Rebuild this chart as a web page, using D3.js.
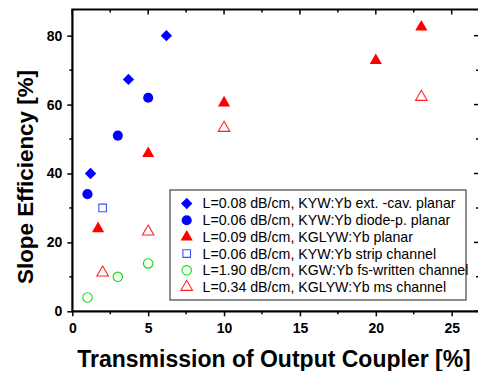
<!DOCTYPE html>
<html>
<head>
<meta charset="utf-8">
<script src="https://cdn.jsdelivr.net/npm/d3@7"></script>
<style>
  body { margin: 0; background: #fff; }
  svg { display: block; font-family: 'Liberation Sans', Arial, sans-serif; }
</style>
</head>
<body>
<div id="chart"></div>
<script>
// transmission of output coupler [%] and slope efficiency [%] per series
const extCavX = [1.2, 3.7, 6.2];
const extCavY = [40, 67.3, 80];
const diodeX = [1, 3, 5];
const diodeY = [34, 51, 62];
const kglywPlanarX = [1.7, 5, 10, 20, 23];
const kglywPlanarY = [24, 45.8, 60.5, 72.8, 82.5];
const stripX = [2];
const stripY = [30];
const fsX = [1, 3, 5];
const fsY = [4, 10, 13.9];
const msX = [2, 5, 10, 23];
const msY = [11.2, 23.1, 53.2, 62.2];

const legendLabels = [
  'L=0.08 dB/cm, KYW:Yb ext. -cav. planar',
  'L=0.06 dB/cm, KYW:Yb diode-p. planar',
  'L=0.09 dB/cm, KGLYW:Yb planar',
  'L=0.06 dB/cm, KYW:Yb strip channel',
  'L=1.90 dB/cm, KGW:Yb fs-written channel',
  'L=0.34 dB/cm, KGLYW:Yb ms channel'
];

const xTicks = [0, 5, 10, 15, 20, 25];
const yTicks = [0, 20, 40, 60, 80];

const width = 478, height = 371;
const margin = {top: 9.5, right: -1, bottom: 59.7, left: 72.3};

const series = [
  {xs: extCavX, ys: extCavY, shape: 'diamond', color: '#0000ff', fill: true},
  {xs: diodeX, ys: diodeY, shape: 'circle', color: '#0000ff', fill: true},
  {xs: kglywPlanarX, ys: kglywPlanarY, shape: 'triangle', color: '#ff0000', fill: true},
  {xs: stripX, ys: stripY, shape: 'square', color: '#3355ff', fill: false},
  {xs: fsX, ys: fsY, shape: 'circle', color: '#11dd11', fill: false},
  {xs: msX, ys: msY, shape: 'triangle', color: '#ff2222', fill: false}
];

const svg = d3.select('#chart')
  .append('svg')
  .attr('width', width)
  .attr('height', height);

const x = d3.scaleLinear()
  .domain([0, 26.8])
  .range([margin.left, width - margin.right]);

const y = d3.scaleLinear()
  .domain([0, 87.6])
  .range([height - margin.bottom, margin.top]);

const symbolFor = (shape, filled) => {
  if (shape === 'diamond') return d3.symbol(d3.symbolSquare, 64)();
  if (shape === 'circle') return d3.symbol(d3.symbolCircle, filled ? 80 : 70)();
  if (shape === 'triangle') return d3.symbol(d3.symbolTriangle, filled ? 64 : 58)();
  return d3.symbol(d3.symbolSquare, 58)();
};

const drawMarker = (g, s) => g
  .attr('d', symbolFor(s.shape, s.fill))
  .attr('fill', s.fill ? s.color : 'none')
  .attr('stroke', s.color)
  .attr('stroke-width', s.fill ? 0 : 1.1);

const rot = s => s.shape === 'diamond' ? ' rotate(45)' : '';

// minor ticks
const xMinor = d3.range(2.5, 26.8, 5);
const yMinor = d3.range(10, 87.6, 20);

const axisG = svg.append('g');

const xAxis = g => g
  .attr('transform', `translate(0,${y(0)})`)
  .call(d3.axisBottom(x).tickValues(xTicks).tickSize(5).tickPadding(7).tickSizeOuter(0))
  .call(g => g.selectAll('.tick text').attr('font-size', 14).attr('font-weight', 'bold'));

const yAxis = g => g
  .attr('transform', `translate(${x(0)},0)`)
  .call(d3.axisLeft(y).tickValues(yTicks).tickSize(5).tickPadding(5).tickSizeOuter(0))
  .call(g => g.selectAll('.tick text').attr('font-size', 14).attr('font-weight', 'bold'));

axisG.append('g').call(xAxis);
axisG.append('g').call(yAxis);

// minor ticks on bottom / left
axisG.append('g').selectAll('line').data(xMinor).join('line')
  .attr('x1', d => x(d)).attr('x2', d => x(d))
  .attr('y1', y(0)).attr('y2', y(0) + 3)
  .attr('stroke', '#000').attr('stroke-width', 1.5);
axisG.append('g').selectAll('line').data(yMinor).join('line')
  .attr('x1', x(0) - 3).attr('x2', x(0))
  .attr('y1', d => y(d)).attr('y2', d => y(d))
  .attr('stroke', '#000').attr('stroke-width', 1.5);

// mirror ticks on top / right (inward)
axisG.append('g').selectAll('line').data(xTicks.concat(xMinor)).join('line')
  .attr('x1', d => x(d)).attr('x2', d => x(d))
  .attr('y1', margin.top).attr('y2', d => margin.top + (xTicks.includes(d) ? 5 : 3))
  .attr('stroke', '#000').attr('stroke-width', 1.5);
axisG.append('g').selectAll('line').data(yTicks.concat(yMinor)).join('line')
  .attr('x1', d => x(26.8) - (yTicks.includes(d) ? 5 : 3)).attr('x2', x(26.8))
  .attr('y1', d => y(d)).attr('y2', d => y(d))
  .attr('stroke', '#000').attr('stroke-width', 1.5);

axisG.selectAll('.tick line').attr('stroke-width', 1.5);

// frame
svg.append('rect')
  .attr('x', x(0)).attr('y', y(87.6))
  .attr('width', x(26.8) - x(0))
  .attr('height', y(0) - y(87.6))
  .attr('fill', 'none')
  .attr('stroke', '#000')
  .attr('stroke-width', 2);

// legend
const legend = svg.append('g');
legend.append('rect')
  .attr('x', 170).attr('y', 190)
  .attr('width', 296).attr('height', 110)
  .attr('fill', '#fff')
  .attr('stroke', '#444')
  .attr('stroke-width', 1.2);

legend.selectAll('g.item')
  .data(series)
  .join('g')
  .attr('class', 'item')
  .each(function(s, i) {
    const gy = 203.5 + i * 16.7;
    d3.select(this).append('path')
      .attr('transform', `translate(186.7,${gy})${rot(s)}`)
      .call(drawMarker, s);
    d3.select(this).append('text')
      .attr('x', 202.5)
      .attr('y', gy)
      .attr('dy', '0.35em')
      .attr('font-size', 14.2)
      .text(legendLabels[i]);
  });

// points
series.forEach(s => {
  svg.append('g')
    .selectAll('path')
    .data(s.xs.map((v, i) => [v, s.ys[i]]))
    .join('path')
    .attr('transform', d => `translate(${x(d[0])},${y(d[1])})${rot(s)}`)
    .call(drawMarker, s);
});

// titles
svg.append('text')
  .attr('transform', `translate(32.5,177) rotate(-90)`)
  .attr('text-anchor', 'middle')
  .attr('font-size', 22.4)
  .attr('font-weight', 'bold')
  .text('Slope Efficiency [%]');

svg.append('text')
  .attr('x', 274)
  .attr('y', 366.5)
  .attr('text-anchor', 'middle')
  .attr('font-size', 23)
  .attr('font-weight', 'bold')
  .text('Transmission of Output Coupler [%]');
</script>
</body>
</html>
